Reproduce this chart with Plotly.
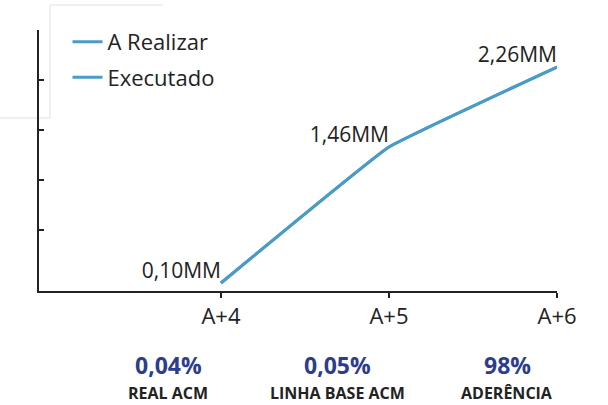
import plotly.graph_objects as go

categories = ["A+4", "A+5", "A+6"]
realizar = [0.10, 1.46, 2.26]
executado = [0.10, 1.46, 2.26]
stat_values = ["0,04%", "0,05%", "98%"]
stat_labels = ["REAL ACM", "LINHA BASE ACM", "ADERÊNCIA"]

def fmt(v):
    return f"{v:.2f}".replace(".", ",") + "MM"

LINE = "#4b9bc6"
FONT = "Open Sans, Inter, sans-serif"

fig = go.Figure()
fig.add_trace(go.Scatter(x=categories, y=realizar, name="A Realizar", mode="lines",
                         legendgroup="a",
                         line=dict(color=LINE, width=3, shape="spline", smoothing=0.25),
                         hoverinfo="skip"))
fig.add_trace(go.Scatter(x=categories, y=executado, name="Executado", mode="lines+text",
                         legendgroup="b",
                         text=[fmt(v) for v in executado], textposition="top left",
                         textfont=dict(size=21, color="#222222", family=FONT),
                         line=dict(color=LINE, width=3, shape="spline", smoothing=0.25),
                         cliponaxis=False))

W, H = 608, 405
L, R, T, B = 39, 51, 30, 114
pw, ph = W - L - R, H - T - B

def px_x(x):
    return (x - L) / pw

def px_y(y):
    return (H - B - y) / ph

annotations = []
for i, (v, lab) in enumerate(zip(stat_values, stat_labels)):
    xc = [168, 337, 507][i]
    annotations.append(dict(x=px_x(xc), y=px_y(365), xref="paper", yref="paper",
                            text=f"<b>{v}</b>", showarrow=False, xanchor="center", yanchor="middle",
                            font=dict(size=23, color="#2b3d8c", family=FONT)))
    annotations.append(dict(x=px_x(xc), y=px_y(393), xref="paper", yref="paper",
                            text=f"<b>{lab}</b>", showarrow=False, xanchor="center", yanchor="middle",
                            font=dict(size=16, color="#222222", family=FONT)))

shapes = [
    dict(type="line", xref="paper", yref="paper", x0=px_x(0), x1=px_x(50), y0=px_y(118), y1=px_y(118),
         line=dict(color="#ebebeb", width=1.5), layer="below"),
    dict(type="line", xref="paper", yref="paper", x0=px_x(50), x1=px_x(50), y0=px_y(118), y1=px_y(5),
         line=dict(color="#ebebeb", width=1.5), layer="below"),
    dict(type="line", xref="paper", yref="paper", x0=px_x(50), x1=px_x(163), y0=px_y(5), y1=px_y(5),
         line=dict(color="#ebebeb", width=1.5), layer="below"),
]

fig.update_layout(
    width=W, height=H,
    margin=dict(l=L, r=R, t=T, b=B, pad=0),
    paper_bgcolor="white", plot_bgcolor="white",
    font=dict(family=FONT, color="#222222"),
    showlegend=True,
    legend=dict(x=0.055, y=1.035, xanchor="left", yanchor="top",
                font=dict(size=22, color="#222222", family=FONT),
                bgcolor="rgba(0,0,0,0)", itemwidth=30, tracegroupgap=4),
    annotations=annotations,
    shapes=shapes,
)
fig.update_xaxes(type="category", range=[-1.083, 2.0], showgrid=False, zeroline=False,
                 showline=True, linecolor="#222222", linewidth=2,
                 ticks="outside", ticklen=5, tickcolor="#222222", tickwidth=2,
                 tickfont=dict(size=22, color="#222222", family=FONT))
fig.update_yaxes(range=[0.02, 2.63], showgrid=False, zeroline=False,
                 showline=True, linecolor="#222222", linewidth=2,
                 ticks="inside", ticklen=5, tickcolor="#222222", tickwidth=2,
                 tickvals=[0.63, 1.13, 1.63, 2.13, 2.63], showticklabels=False)

fig.write_html("out.html", config={"displayModeBar": False},
               post_script="document.body.style.margin='0px';document.body.style.padding='0px';")
